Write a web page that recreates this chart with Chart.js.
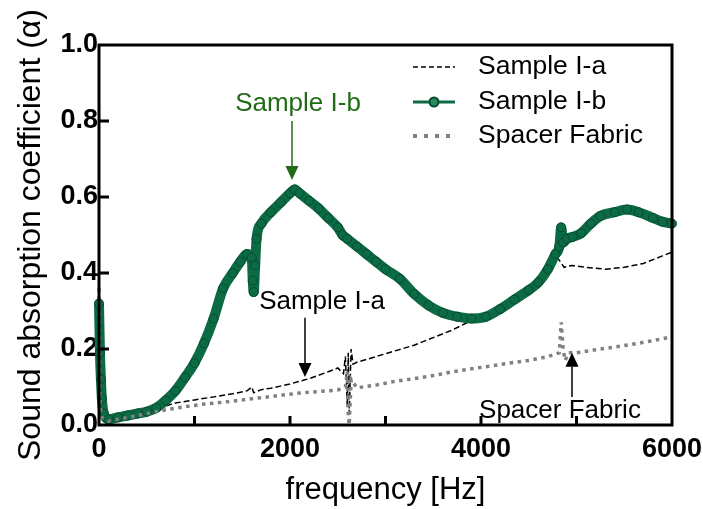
<!DOCTYPE html>
<html>
<head>
<meta charset="utf-8">
<script src="https://cdn.jsdelivr.net/npm/chart.js@4.4.1/dist/chart.umd.min.js"></script>
<style>
html,body{margin:0;padding:0;background:#fff;}
#wrap{width:703px;height:509px;}
</style>
</head>
<body>
<div id="wrap"><canvas id="c" width="703" height="509"></canvas></div>
<script>
// ---- data ----
const seriesNames = ['Sample I-a', 'Sample I-b', 'Spacer Fabric'];
const xTicks = [0, 2000, 4000, 6000];
const yTicks = [0.0, 0.2, 0.4, 0.6, 0.8, 1.0];

const freqA = [0, 10, 30, 60, 100, 200, 300, 400, 500, 600, 700, 800, 900, 1000, 1200, 1400, 1550, 1600, 1620, 1700, 1800, 2000, 2200, 2400, 2500, 2560, 2580, 2600, 2610, 2620, 2640, 2660, 2700, 2900, 3100, 3300, 3500, 3700, 3900, 4100, 4300, 4500, 4700, 4800, 4830, 4870, 4950, 5100, 5300, 5500, 5700, 5900, 6000];
const alphaA = [0.30, 0.10, 0.03, 0.02, 0.015, 0.02, 0.025, 0.03, 0.035, 0.04, 0.05, 0.058, 0.062, 0.066, 0.074, 0.082, 0.09, 0.10, 0.085, 0.093, 0.097, 0.108, 0.122, 0.14, 0.15, 0.135, 0.18, 0.05, 0.19, 0.03, 0.20, 0.16, 0.165, 0.18, 0.195, 0.21, 0.23, 0.25, 0.275, 0.30, 0.325, 0.36, 0.41, 0.44, 0.43, 0.415, 0.42, 0.415, 0.41, 0.415, 0.425, 0.445, 0.455];

const freqB = [0, 10, 20, 30, 50, 100, 200, 300, 400, 500, 600, 700, 800, 900, 1000, 1100, 1200, 1300, 1400, 1480, 1550, 1600, 1610, 1620, 1635, 1650, 1700, 1800, 1900, 2000, 2050, 2100, 2200, 2300, 2400, 2500, 2550, 2600, 2700, 2800, 2900, 3000, 3150, 3300, 3450, 3600, 3750, 3900, 4050, 4200, 4350, 4500, 4600, 4700, 4780, 4820, 4840, 4860, 4900, 4960, 5050, 5150, 5250, 5400, 5530, 5650, 5800, 5900, 6000];
const alphaB = [0.32, 0.19, 0.12, 0.07, 0.03, 0.015, 0.02, 0.025, 0.03, 0.035, 0.045, 0.065, 0.09, 0.125, 0.163, 0.215, 0.28, 0.36, 0.40, 0.43, 0.45, 0.44, 0.38, 0.35, 0.42, 0.49, 0.53, 0.56, 0.585, 0.61, 0.62, 0.61, 0.59, 0.57, 0.545, 0.52, 0.50, 0.49, 0.47, 0.45, 0.43, 0.41, 0.385, 0.345, 0.315, 0.295, 0.285, 0.28, 0.285, 0.305, 0.33, 0.355, 0.375, 0.41, 0.45, 0.47, 0.52, 0.48, 0.49, 0.495, 0.505, 0.53, 0.55, 0.56, 0.567, 0.56, 0.545, 0.535, 0.53];

const freqS = [0, 5, 15, 30, 60, 100, 200, 300, 400, 500, 700, 900, 1100, 1300, 1500, 1700, 1900, 2100, 2300, 2500, 2580, 2600, 2610, 2620, 2640, 2700, 2900, 3100, 3300, 3500, 3700, 3900, 4100, 4300, 4500, 4700, 4820, 4840, 4860, 4880, 4920, 5000, 5200, 5400, 5600, 5800, 6000];
const alphaS = [0.36, 0.10, 0.04, 0.02, 0.015, 0.01, 0.015, 0.02, 0.025, 0.03, 0.04, 0.048, 0.055, 0.06, 0.066, 0.072, 0.078, 0.084, 0.088, 0.092, 0.10, 0.14, 0.02, 0.0, 0.12, 0.098, 0.105, 0.115, 0.122, 0.13, 0.14, 0.148, 0.155, 0.163, 0.17, 0.18, 0.19, 0.27, 0.20, 0.17, 0.19, 0.19, 0.198, 0.205, 0.213, 0.222, 0.232];

// annotation texts
const noteTexts = ['Sample I-b', 'Sample I-a', 'Spacer Fabric'];

// ---- build ----
const pts = (xs, ys) => xs.map((x, i) => ({x: x, y: ys[i]}));
const GREEN = '#0b6b45';

const notes = [
  {text: noteTexts[0], color: '#226b16', tx: 2084, ty: 0.845, ax: 2021, a0: 0.80, a1: 0.645},
  {text: noteTexts[1], color: '#000000', tx: 2335, ty: 0.324, ax: 2157, a0: 0.282, a1: 0.126},
  {text: noteTexts[2], color: '#000000', tx: 4827, ty: 0.037, ax: 4953, a0: 0.074, a1: 0.19}
];

const framePlugin = {
  id: 'frame',
  afterDraw(chart) {
    const ctx = chart.ctx, a = chart.chartArea;
    const xs = chart.scales.x, ys = chart.scales.y;
    ctx.save();
    ctx.strokeStyle = '#000';
    ctx.lineWidth = 3;
    ctx.strokeRect(a.left, a.top, a.right - a.left, a.bottom - a.top);
    ctx.beginPath();
    [1000, 2000, 3000, 4000, 5000].forEach(v => {
      const px = xs.getPixelForValue(v);
      ctx.moveTo(px, a.bottom); ctx.lineTo(px, a.bottom - 9);
    });
    [0.2, 0.4, 0.6, 0.8].forEach(v => {
      const py = ys.getPixelForValue(v);
      ctx.moveTo(a.left, py); ctx.lineTo(a.left + 10, py);
    });
    ctx.stroke();

    // annotations
    notes.forEach(n => {
      const x = xs.getPixelForValue(n.tx), y = ys.getPixelForValue(n.ty);
      ctx.fillStyle = n.color;
      ctx.font = '26px "Liberation Sans", Arial, sans-serif';
      ctx.textAlign = 'center';
      ctx.textBaseline = 'middle';
      ctx.fillText(n.text, x, y);
      const ax = xs.getPixelForValue(n.ax);
      const y0 = ys.getPixelForValue(n.a0), y1 = ys.getPixelForValue(n.a1);
      const dir = y1 > y0 ? 1 : -1;
      const head = 14;
      ctx.strokeStyle = n.color;
      ctx.lineWidth = 1.5;
      ctx.beginPath();
      ctx.moveTo(ax, y0); ctx.lineTo(ax, y1 - dir * head);
      ctx.stroke();
      ctx.beginPath();
      ctx.moveTo(ax, y1);
      ctx.lineTo(ax - 6.5, y1 - dir * head);
      ctx.lineTo(ax + 6.5, y1 - dir * head);
      ctx.closePath();
      ctx.fill();
    });

    // legend
    const lx0 = 413, lx1 = 455, tx = 478;
    const rows = [67, 102, 136];
    const dsets = chart.data.datasets;
    ctx.font = '26.5px "Liberation Sans", Arial, sans-serif';
    ctx.textAlign = 'left';
    ctx.textBaseline = 'middle';
    rows.forEach((ry, i) => {
      const d = dsets[i];
      ctx.save();
      ctx.strokeStyle = d.borderColor;
      if (i === 0) { ctx.lineWidth = 1.5; ctx.setLineDash([5, 3]); }
      else if (i === 1) { ctx.lineWidth = 3; ctx.setLineDash([]); }
      else { ctx.lineWidth = 4; ctx.setLineDash([4, 7]); }
      ctx.beginPath(); ctx.moveTo(lx0, ry); ctx.lineTo(lx1, ry); ctx.stroke();
      if (i === 1) {
        ctx.setLineDash([]);
        ctx.beginPath(); ctx.arc((lx0 + lx1) / 2, ry, 4.5, 0, Math.PI * 2);
        ctx.fillStyle = '#2a8a5e'; ctx.fill();
        ctx.lineWidth = 2; ctx.strokeStyle = '#0a4a30'; ctx.stroke();
      }
      ctx.restore();
      ctx.fillStyle = '#000';
      ctx.fillText(d.label, tx, ry);
    });
    ctx.restore();
  }
};

new Chart(document.getElementById('c'), {
  type: 'scatter',
  data: {
    datasets: [
      {label: seriesNames[0], data: pts(freqA, alphaA), showLine: true, borderColor: '#000', borderWidth: 1.5,
       borderDash: [6, 3], pointRadius: 0, tension: 0, clip: false, order: 2},
      {label: seriesNames[1], data: pts(freqB, alphaB), showLine: true, borderColor: GREEN, borderWidth: 10,
       pointRadius: 4.5, pointBackgroundColor: GREEN, pointBorderColor: '#0a4a30', pointBorderWidth: 1,
       tension: 0.2, cubicInterpolationMode: 'monotone', clip: false, order: 1},
      {label: seriesNames[2], data: pts(freqS, alphaS), showLine: true, borderColor: '#808080', borderWidth: 3.5,
       borderDash: [3.5, 4.5], pointRadius: 0, tension: 0, clip: false, order: 0}
    ]
  },
  options: {
    responsive: false,
    animation: false,
    layout: {padding: {top: 45, right: 31, left: 0, bottom: 0}},
    plugins: {legend: {display: false}, tooltip: {enabled: false}},
    scales: {
      x: {
        type: 'linear', min: 0, max: 6000,
        afterFit(s) { s.height = 84; s.paddingRight = 0; s.paddingLeft = 0; },
        afterBuildTicks(s) { s.ticks = xTicks.map(v => ({value: v})); },
        grid: {display: false, drawTicks: false},
        border: {display: false},
        ticks: {color: '#000', padding: 8, maxRotation: 0, callback: v => String(v),
                font: {family: '"Liberation Sans", Arial, sans-serif', size: 27, weight: 'bold'}},
        title: {display: true, text: 'frequency [Hz]', color: '#000', padding: {top: 3, bottom: 0},
                font: {family: '"Liberation Sans", Arial, sans-serif', size: 31}}
      },
      y: {
        type: 'linear', min: 0, max: 1,
        afterFit(s) { s.width = 99; },
        afterBuildTicks(s) { s.ticks = yTicks.map(v => ({value: v})); },
        grid: {display: false, drawTicks: false},
        border: {display: false},
        ticks: {color: '#000', padding: 1, callback: v => v.toFixed(1),
                font: {family: '"Liberation Sans", Arial, sans-serif', size: 27, weight: 'bold'}},
        title: {display: true, text: 'Sound absorption coefficient (\u03b1)', color: '#000', padding: {top: 12, bottom: 0},
                font: {family: '"Liberation Sans", Arial, sans-serif', size: 32}}
      }
    }
  },
  plugins: [framePlugin]
});
</script>
</body>
</html>
